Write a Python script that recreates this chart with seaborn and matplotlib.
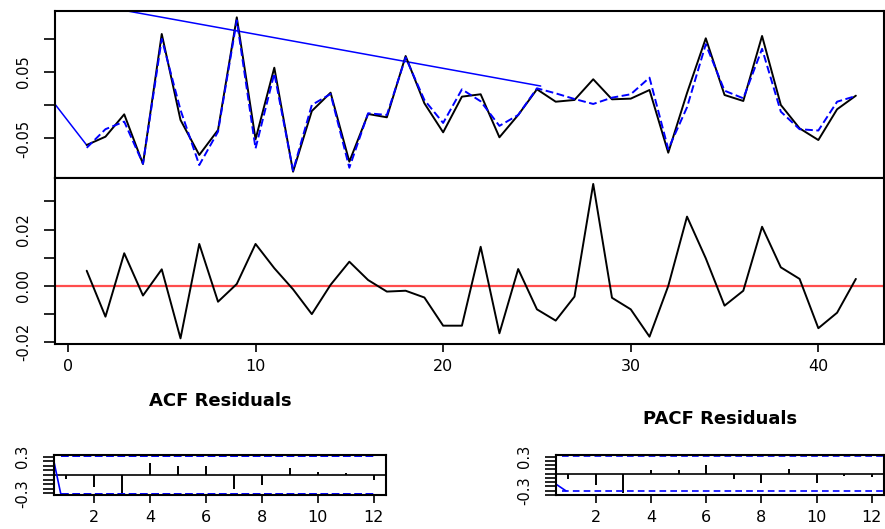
import numpy as np
import matplotlib
matplotlib.use("Agg")
import matplotlib.pyplot as plt
import seaborn as sns

# time index and series
t = np.arange(1, 43)
actual = [-0.0598, -0.0473, -0.0136, -0.0884, 0.1074, -0.0221, -0.0748, -0.0372, 0.1325, -0.0512,
          0.0566, -0.1000, -0.0086, 0.0190, -0.0849, -0.0131, -0.0181, 0.0742, 0.0030, -0.0407,
          0.0130, 0.0166, -0.0482, -0.0146, 0.0241, 0.0054, 0.0080, 0.0392, 0.0090, 0.0100,
          0.0230, -0.0714, 0.0185, 0.1009, 0.0155, 0.0065, 0.1044, 0.0005, -0.0347, -0.0523,
          -0.0060, 0.0145]
fitted = [-0.0640, -0.0360, -0.0246, -0.0880, 0.1000, -0.0070, -0.0900, -0.0397, 0.1280, -0.0650,
          0.0480, -0.0985, 0.0005, 0.0170, -0.0940, -0.0120, -0.0146, 0.0720, 0.0080, -0.0266,
          0.0240, 0.0060, -0.0310, -0.0146, 0.0256, 0.0180, 0.0095, 0.0020, 0.0115, 0.0166,
          0.0416, -0.0660, -0.0030, 0.0920, 0.0220, 0.0105, 0.0850, -0.0096, -0.0360, -0.0380,
          0.0054, 0.0140]
resid = [0.0054, -0.0109, 0.0116, -0.0034, 0.0059, -0.0186, 0.0149, -0.0056, 0.0007, 0.0149,
         0.0063, -0.0012, -0.0100, 0.0004, 0.0086, 0.0021, -0.0020, -0.0017, -0.0041, -0.0141,
         -0.0141, 0.0139, -0.0168, 0.0060, -0.0083, -0.0123, -0.0038, 0.0362, -0.0042, -0.0083,
         -0.0180, 0.0000, 0.0246, 0.0098, -0.0070, -0.0017, 0.0210, 0.0066, 0.0025, -0.0150,
         -0.0095, 0.0025]

# stray solid blue line that shows up in the top panel
stray_t = [1, -5.8, 25.2]
stray_v = [-0.060, 0.188, 0.029]

# ACF / PACF of residuals
lags = np.arange(1, 13)
acf_vals = [-0.07, -0.19, -0.29, 0.19, 0.145, 0.145, -0.23, -0.17, 0.12, 0.05, 0.025, -0.085]
pacf_vals = [-0.10, -0.205, -0.348, 0.07, 0.07, 0.158, -0.10, -0.158, 0.088, -0.158, -0.047, -0.058]
ci = 0.302
acf_ci_x = [0.80, 12.05]
pacf_ci_x = [0.77, 12.5]
acf_stray_x = [0.50, 0.80]
acf_stray_y = [0.343, -0.302]
pacf_stray_x = [0.56, 0.92]
pacf_stray_y = [-0.185, -0.302]

sns.set_style("ticks")
plt.rcParams['font.family'] = ['DejaVu Sans']
plt.rcParams['text.color'] = 'black'
plt.rcParams['xtick.color'] = 'black'
plt.rcParams['ytick.color'] = 'black'

W, H = 885, 529
fig = plt.figure(figsize=(8.85, 5.29), dpi=100)
ax_top = fig.add_axes([55 / W, 1 - 178 / H, 829 / W, 167 / H])
ax_res = fig.add_axes([55 / W, 1 - 344 / H, 829 / W, 166 / H])
ax_acf = fig.add_axes([54 / W, 1 - 495 / H, 332 / W, 40 / H])
ax_pacf = fig.add_axes([556 / W, 1 - 495 / H, 328 / W, 40 / H])

blue = '#0000ff'
lw = 1.4

# top panel: actual vs fitted
sns.lineplot(x=stray_t, y=stray_v, ax=ax_top, color=blue, lw=1.1, sort=False, estimator=None)
sns.lineplot(x=t, y=actual, ax=ax_top, color='black', lw=lw)
sns.lineplot(x=t, y=fitted, ax=ax_top, color=blue, lw=lw, linestyle=(0, (4, 1.8)))
ax_top.set_xlim(-0.69, 43.5)
ax_top.set_ylim(-0.1095, 0.142)
ax_top.set_yticks([0.10, 0.05, 0.0, -0.05])
ax_top.set_yticklabels(['', '0.05', '', '-0.05'], rotation=90, va='center')

# residual panel
ax_res.axhline(0, color='#ff4d4d', lw=1.6, zorder=1)
sns.lineplot(x=t, y=resid, ax=ax_res, color='black', lw=lw, zorder=2)
ax_res.set_xlim(-0.69, 43.5)
ax_res.set_ylim(-0.0206, 0.0383)
ax_res.set_yticks([0.03, 0.02, 0.01, 0.0, -0.01, -0.02])
ax_res.set_yticklabels(['', '0.02', '', '0.00', '', '-0.02'], rotation=90, va='center')
ax_res.set_xticks([0, 10, 20, 30, 40])

# ACF panel
ax_acf.axhline(0, color='black', lw=1.2)
ax_acf.vlines(lags, 0, acf_vals, color='black', lw=1.4)
for s in (1, -1):
    sns.lineplot(x=acf_ci_x, y=[s * ci, s * ci], ax=ax_acf, color=blue, lw=1.4,
                 linestyle=(0, (4, 1.8)))
sns.lineplot(x=acf_stray_x, y=acf_stray_y, ax=ax_acf, color=blue, lw=1.2)
ax_acf.set_xlim(0.56, 12.44)
ax_acf.set_ylim(-0.326, 0.326)
acf_ticks = np.round(np.arange(-0.30, 0.31, 0.075), 3)
ax_acf.set_yticks(acf_ticks)
ax_acf.set_yticklabels(['-0.3' if v == -0.3 else '0.3' if v == 0.3 else '' for v in acf_ticks],
                       rotation=90, va='center')
ax_acf.set_xticks([2, 4, 6, 8, 10, 12])
ax_acf.text(0.5, 2.35, 'ACF Residuals', transform=ax_acf.transAxes, ha='center', va='center',
            fontsize=13, fontweight='bold', color='black')

# PACF panel
ax_pacf.axhline(0, color='black', lw=1.2)
ax_pacf.vlines(lags, 0, pacf_vals, color='black', lw=1.4)
for s in (1, -1):
    sns.lineplot(x=pacf_ci_x, y=[s * ci, s * ci], ax=ax_pacf, color=blue, lw=1.2,
                 linestyle=(0, (4, 2.5)))
sns.lineplot(x=pacf_stray_x, y=pacf_stray_y, ax=ax_pacf, color=blue, lw=1.2)
ax_pacf.set_xlim(0.56, 12.44)
ax_pacf.set_ylim(-0.374, 0.328)
pacf_ticks = np.round(np.arange(-0.375, 0.31, 0.075), 3)
ax_pacf.set_yticks(pacf_ticks)
ax_pacf.set_yticklabels(['-0.3' if v == -0.3 else '0.3' if v == 0.3 else '' for v in pacf_ticks],
                        rotation=90, va='center')
ax_pacf.set_xticks([2, 4, 6, 8, 10, 12])
ax_pacf.text(0.5, 1.9, 'PACF Residuals', transform=ax_pacf.transAxes, ha='center', va='center',
             fontsize=13, fontweight='bold', color='black')

for ax in (ax_top, ax_res, ax_acf, ax_pacf):
    ax.set_xlabel('')
    ax.set_ylabel('')
    for sp in ax.spines.values():
        sp.set_visible(True)
        sp.set_linewidth(1.5)
        sp.set_color('black')
    ax.tick_params(axis='y', direction='out', length=8, width=1.2, pad=9, labelsize=10.5,
                   colors='black')
    ax.tick_params(axis='x', direction='out', length=6, width=1.2, pad=5, labelsize=11.5,
                   colors='black')
    if ax.get_legend() is not None:
        ax.get_legend().remove()

ax_top.tick_params(axis='x', bottom=False, labelbottom=False)

fig.savefig('out.png', dpi=100)
